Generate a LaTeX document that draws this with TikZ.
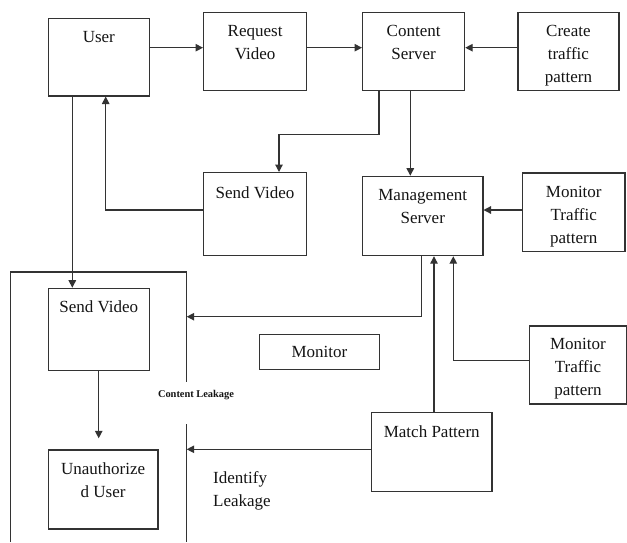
\documentclass[tikz,border=0pt]{standalone}
\usepackage{fontspec}
\setmainfont{Liberation Serif}
\usetikzlibrary{arrows.meta}
\definecolor{ink}{HTML}{333333}
\definecolor{txtc}{HTML}{141414}
\begin{document}
\begin{tikzpicture}[x=1pt,y=-1pt,
  box/.style={draw=ink, line width=1.2pt, anchor=north west, inner sep=0pt},
  lbl/.style={font=\fontsize{17}{23}\selectfont, text=txtc, align=center, anchor=north, inner sep=0pt},
  wire/.style={draw=ink, line width=1.2pt},
  arr/.style={wire, -{Triangle[length=7.5pt,width=7.5pt]}}]
\useasboundingbox (0,0) rectangle (627,542);

% boxes
\node[box, minimum width=101, minimum height=77.6] (user) at (47.7,17.7) {};
\node[box, minimum width=103, minimum height=78.3] (req) at (203,11.7) {};
\node[box, minimum width=102, minimum height=78.3] (content) at (362,11.7) {};
\node[box, minimum width=101, minimum height=78.3] (create) at (517.3,11.7) {};
\node[box, minimum width=103, minimum height=83] (sv1) at (203,172) {};
\node[box, minimum width=120.3, minimum height=79.3] (mgmt) at (362,175.7) {};
\node[box, minimum width=102.3, minimum height=78.4] (mon1) at (522,172.3) {};
\node[box, minimum width=101, minimum height=82.3] (sv2) at (47.7,287.7) {};
\node[box, minimum width=120.3, minimum height=35.3] (monitor) at (258.7,333.7) {};
\node[box, minimum width=97.7, minimum height=78] (mon2) at (528.5,325.3) {};
\node[box, minimum width=120.3, minimum height=79] (match) at (371,411.7) {};
\node[box, minimum width=109.6, minimum height=79] (unauth) at (47.7,449.3) {};

% box texts
\node[lbl] (user-t) at ([yshift=-13pt]user.north) {User};
\node[lbl] (req-t) at ([yshift=-13.5pt]req.north) {Request\\Video};
\node[lbl] (content-t) at ([yshift=-13.5pt]content.north) {Content\\Server};
\node[lbl] (create-t) at ([yshift=-13pt]create.north) {Create\\traffic\\pattern};
\node[lbl] (sv1-t) at ([yshift=-14pt]sv1.north) {Send Video};
\node[lbl] (mgmt-t) at ([yshift=-13.5pt]mgmt.north) {Management\\Server};
\node[lbl] (mon1-t) at ([yshift=-14pt]mon1.north) {Monitor\\Traffic\\pattern};
\node[lbl] (sv2-t) at ([yshift=-12.5pt]sv2.north) {Send Video};
\node[lbl] (monitor-t) at ([yshift=-12.5pt]monitor.north) {Monitor};
\node[lbl] (mon2-t) at ([yshift=-12.5pt]mon2.north) {Monitor\\Traffic\\pattern};
\node[lbl] (match-t) at ([yshift=-14pt]match.north) {Match Pattern};
\node[lbl] (unauth-t) at ([yshift=-13pt]unauth.north) {Unauthorize\\d User};

% free texts
\node[font=\bfseries\fontsize{10.4}{12}\selectfont, text=txtc, inner sep=0pt] (leak) at (196,395) {Content Leakage};
\node[lbl, align=left, anchor=north west] (ident) at (213,471) {Identify\\Leakage};

% open frame around the leakage side
\coordinate (fBL) at (10.7,542);
\coordinate (fTL) at (10.7,272);
\coordinate (fTR) at (186.7,272);
\coordinate (fGapTop) at (186.7,381.7);
\coordinate (fGapBot) at (186.7,424.3);
\coordinate (fBR) at (186.7,542);
\draw[wire] (fBL) -- (fTL) -- (fTR) -- (fGapTop);
\draw[wire] (fGapBot) -- (fBR);

% connectors
\draw[arr] (user.east |- 0,47.7) -- (req.west |- 0,47.7);
\draw[arr] (req.east |- 0,47.7) -- (content.west |- 0,47.7);
\draw[arr] (create.west |- 0,47.7) -- (content.east |- 0,47.7);
\draw[arr] (content.south -| 379,0) |- (279,134.3) -- (sv1.north -| 279,0);
\draw[arr] (content.south -| 410.3,0) -- (mgmt.north -| 410.3,0);
\draw[arr] (mon1.west |- 0,210) -- (mgmt.east |- 0,210);
\draw[arr] (sv1.west |- 0,210) -| (user.south -| 105.7,0);
\draw[arr] (user.south -| 72.3,0) -- (sv2.north -| 72.3,0);
\draw[arr] (mgmt.south -| 421.3,0) |- (fTR |- 0,316.7);
\draw[arr] (match.north -| 434,0) -- (mgmt.south -| 434,0);
\draw[arr] (mon2.west |- 0,360.3) -| (mgmt.south -| 453.3,0);
\draw[arr] (match.west |- 0,449.3) -- (fTR |- 0,449.3);
\draw[arr, shorten >=11pt] (sv2.south -| 98.7,0) -- (unauth.north -| 98.7,0);
\end{tikzpicture}
\end{document}
